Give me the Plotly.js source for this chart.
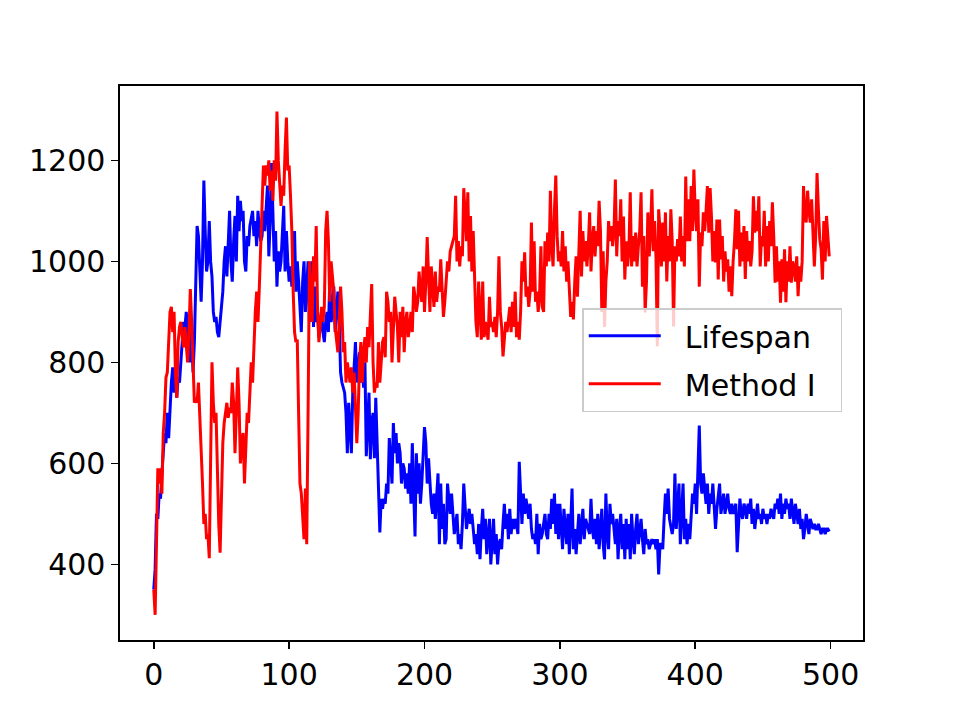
<!DOCTYPE html>
<html>
<head>
<meta charset="utf-8">
<script src="https://cdn.plot.ly/plotly-3.0.1.min.js"></script>
<style>html,body{margin:0;padding:0;background:#fff;}#chart{width:960px;height:720px;}</style>
</head>
<body>
<div id="chart"></div>
<script>
const seriesNames = ["Lifespan", "Method I"];
const xTicks = [0, 100, 200, 300, 400, 500];
const yTicks = [400, 600, 800, 1000, 1200];

const lifespan = [
350,390,500,490,540,530,580,620,660,640,
700,650,720,760,790,740,780,730,770,760,
800,850,880,870,900,860,830,800,860,780,
840,930,1070,1050,960,920,1000,1160,1060,980,
1000,1080,1000,970,900,880,890,860,850,880,
900,940,1000,1030,970,1050,1100,1000,960,1040,
1090,1000,1130,1060,1120,1080,1100,1000,980,1050,
1030,1070,1090,1100,1050,1080,1030,1100,1060,1040,
1050,1100,1060,1120,1150,1010,1080,1195,1070,1000,
1060,950,1020,980,1000,1050,1110,980,1060,1000,
960,990,950,1000,1060,940,1000,960,900,860,
960,1000,900,950,1000,880,900,1000,870,950,
880,900,850,870,900,860,840,880,900,860,
960,880,900,950,860,900,940,880,780,760,
750,740,700,620,720,680,620,740,780,840,
760,800,820,760,790,750,800,614,700,740,
608,680,700,610,730,640,560,463,530,510,
530,520,560,540,650,600,560,680,620,660,
600,640,620,560,600,590,550,580,540,600,
520,640,560,455,620,540,600,520,560,610,
672,640,560,610,560,520,500,540,490,540,
580,440,560,470,520,440,450,560,520,500,
540,490,460,480,500,440,460,430,480,560,
500,470,490,510,480,500,470,440,460,420,
480,410,470,510,450,490,420,460,490,400,
440,490,420,460,400,440,450,430,480,520,
470,500,450,510,460,490,470,490,480,460,
603,520,480,540,500,530,510,490,520,470,
450,460,440,500,420,480,450,460,480,500,
460,450,500,470,530,480,540,460,520,450,
520,480,430,510,470,440,500,420,480,550,
430,470,420,460,500,440,480,510,450,490,
480,470,460,530,470,450,490,440,500,430,
470,510,440,410,540,460,430,520,480,500,
470,440,490,410,470,500,430,480,410,490,
430,480,410,500,450,420,470,500,440,470,
490,450,420,470,440,450,430,440,450,440,
450,430,450,380,440,440,430,490,540,500,
550,490,470,460,480,580,470,520,560,440,
500,560,450,490,440,480,450,500,540,520,
560,500,600,675,560,540,580,540,520,560,
500,540,520,560,500,470,510,530,560,500,
520,540,500,520,540,510,500,520,500,510,
520,424,480,530,500,490,520,510,490,520,
500,530,480,510,470,500,520,490,500,480,
510,490,500,480,500,490,510,500,490,520,
510,530,500,540,490,520,500,530,510,520,
490,530,500,480,520,500,480,510,470,490,
450,470,500,480,460,490,480,470,480,470,
470,480,470,460,470,470,460,470,470,465
];

const methodI = [
350,300,440,590,560,590,540,660,700,770,
780,840,900,910,860,900,780,730,840,870,
880,850,830,870,840,800,860,945,880,790,
720,730,720,760,700,640,560,480,500,450,
460,412,600,800,720,680,700,580,480,423,
560,640,680,700,720,690,710,700,760,720,
620,700,790,720,600,640,660,560,620,700,
680,740,800,760,840,900,940,880,950,1040,
1100,1190,1150,1190,1170,1200,1140,1180,1120,1200,
1160,1297,1200,1160,1110,1150,1130,1220,1285,1180,
1190,1130,1060,940,860,840,845,700,560,540,
480,450,550,440,700,1000,930,880,1010,960,
1070,900,840,880,910,880,910,1060,1100,1040,
920,1000,960,940,870,840,820,880,950,900,
820,840,760,800,780,760,790,740,780,700,
640,700,800,840,760,820,850,800,870,830,
900,955,800,740,760,750,840,760,800,840,
850,810,940,920,880,900,800,860,930,900,
870,800,900,850,910,820,880,900,850,870,
900,860,950,930,900,920,980,940,920,990,
900,960,1048,970,900,990,940,910,980,920,
950,940,1004,950,890,920,960,1000,980,1020,
1030,1040,1050,1130,1000,1040,990,1030,1010,1145,
1100,1040,1137,1000,1090,980,1060,940,880,850,
960,900,845,960,850,880,860,845,930,870,
880,860,890,850,900,1010,900,870,812,850,
880,860,890,910,860,920,870,940,850,880,
845,900,1000,960,1018,930,950,910,940,1077,
940,1040,920,940,900,930,1030,910,900,1040,
990,1057,1000,1140,1030,990,1100,1170,1050,1000,
1020,990,1060,980,1030,960,1000,950,890,920,
885,960,1010,930,1000,1100,970,1060,1000,1040,
990,1030,1097,980,1040,1070,1010,1060,1030,1120,
1060,900,1020,870,960,1000,1080,1040,1070,1030,
1060,1162,1010,1080,1050,1123,1000,1089,964,1040,
990,1020,1137,990,1050,1000,1057,990,1030,1060,
1137,950,1050,899,960,1097,1010,1060,1143,1020,
1080,1010,832,1103,1060,990,1077,1000,1097,960,
1050,1000,1103,1040,871,1030,1000,1044,1010,1089,
1000,1050,990,1168,1040,1123,1040,1149,1060,1182,
1100,1060,1123,950,1057,1030,1097,1060,1100,1149,
1057,1145,1089,1000,1060,998,1083,964,1083,1004,
1050,960,1020,980,1004,940,990,931,1000,1040,
1103,1024,1100,990,1057,1000,1070,965,1060,1000,
1040,990,1020,1129,1057,1100,1060,1129,990,1050,
1030,1100,990,1070,1000,1080,1030,1117,1050,958,
1030,960,1000,918,1004,940,1024,919,1000,960,
1030,958,1000,990,960,1010,931,990,960,1000,
1149,1090,1077,1140,1100,1077,1123,1040,990,1050,
1175,1103,1044,1024,964,1080,1000,1090,1040,1010
];

const xIdx = lifespan.map((_, i) => i);
const lead = '\u00a0\u00a0';
const tail = '\u00a0\u00a0';

const traces = [
  {x: xIdx, y: lifespan, type: 'scatter', mode: 'lines', name: lead + seriesNames[0] + tail,
   legendgroup: 'a', line: {color: '#0000ff', width: 3}},
  {x: xIdx, y: methodI, type: 'scatter', mode: 'lines', name: lead + seriesNames[1] + tail,
   legendgroup: 'b', line: {color: '#ff0000', width: 3}}
];

const axisCommon = {
  showgrid: false, zeroline: false, showline: true, mirror: true,
  linecolor: '#000', linewidth: 1.6, ticks: 'outside', ticklen: 7, tickwidth: 1.6,
  tickcolor: '#000', tickfont: {family: 'DejaVu Sans', size: 30, color: '#000'}
};

const layout = {
  width: 960, height: 720,
  margin: {l: 120, r: 97, t: 86, b: 80},
  paper_bgcolor: '#fff', plot_bgcolor: '#fff',
  font: {family: 'DejaVu Sans', color: '#000'},
  xaxis: Object.assign({}, axisCommon, {range: [-24.95, 523.95], tickvals: xTicks, ticktext: xTicks.map(String)}),
  yaxis: Object.assign({}, axisCommon, {range: [250.15, 1347.35], tickvals: yTicks, ticktext: yTicks.map(String)}),
  showlegend: true,
  legend: {
    x: 0.622, y: 0.505, xanchor: 'left', yanchor: 'middle',
    bgcolor: 'rgba(255,255,255,0.8)', bordercolor: '#cccccc', borderwidth: 1.6,
    font: {family: 'DejaVu Sans', size: 30, color: '#000'},
    itemwidth: 72,
    traceorder: 'grouped', tracegroupgap: 6
  }
};

Plotly.newPlot('chart', traces, layout, {displayModeBar: false, staticPlot: true});
</script>
</body>
</html>
